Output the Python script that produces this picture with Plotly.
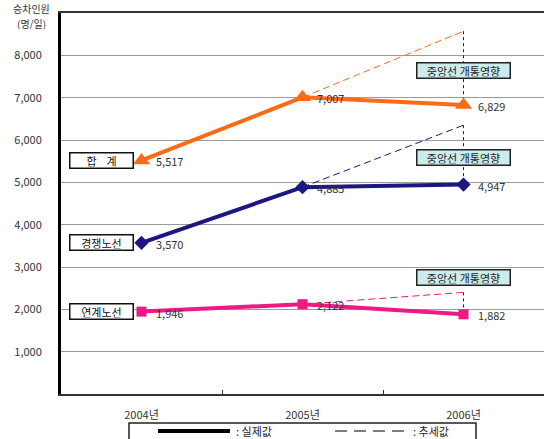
import plotly.graph_objects as go

# 연도별 승차인원 (명/일)
years = ["2004년", "2005년", "2006년"]
total = [5517, 7007, 6829]          # 합계
competing = [3570, 4885, 4947]      # 경쟁노선
linked = [1946, 2122, 1882]         # 연계노선

# 2006년 추세값 (중앙선 개통 전 추세 연장)
trend_total = [7007, 8570]
trend_competing = [4885, 6350]
trend_linked = [2122, 2400]

series_names = ["합    계", "경쟁노선", "연계노선"]
y_ticks = [1000, 2000, 3000, 4000, 5000, 6000, 7000, 8000]

ORANGE = "#FF6A16"
NAVY = "#1C1680"
PINK = "#EC1A82"
KFONT = "Noto Sans CJK KR"

fig = go.Figure()

series = [
    (total, trend_total, ORANGE, "triangle-up", 15),
    (competing, trend_competing, NAVY, "diamond", 11),
    (linked, trend_linked, PINK, "square", 10),
]

# 추세값 (점선)
for vals, trend, color, sym, msize in series:
    fig.add_trace(go.Scatter(
        x=years[1:], y=trend, mode="lines",
        line=dict(color=color, width=1, dash="7px,4px"),
        hoverinfo="skip", showlegend=False))

# 중앙선 개통영향 화살표 (추세값 -> 실제값)
for vals, trend, color, sym, msize in series:
    fig.add_trace(go.Scatter(
        x=[years[2], years[2]], y=[trend[1], vals[2]], mode="lines",
        line=dict(color="#222222", width=1, dash="dot"),
        hoverinfo="skip", showlegend=False))

# 실제값 (실선)
for vals, trend, color, sym, msize in series:
    fig.add_trace(go.Scatter(
        x=years, y=vals, mode="lines+markers",
        line=dict(color=color, width=4),
        marker=dict(symbol=sym, size=msize, color=color),
        showlegend=False))

annotations = []

# 값 레이블
for vals, trend, color, sym, msize in series:
    for xi, v in zip(years, vals):
        annotations.append(dict(
            x=xi, y=v, xref="x", yref="y", text=f"{v:,}",
            showarrow=False, xanchor="left", yanchor="middle",
            xshift=12, yshift=-1,
            font=dict(family=KFONT, size=11, color="#333333")))

# 화살촉
for vals, trend, color, sym, msize in series:
    annotations.append(dict(
        x=years[2], y=vals[2], xref="x", yref="y", ax=0, ay=-6,
        axref="pixel", ayref="pixel", text="", showarrow=True,
        arrowhead=2, arrowsize=1, arrowwidth=1, arrowcolor="#111111",
        standoff=10))

# 노선명 상자
for name, vals in zip(series_names, [total, competing, linked]):
    annotations.append(dict(
        x=years[0], y=vals[0], xref="x", yref="y", text=name,
        showarrow=False, xanchor="center", yanchor="middle", xshift=-40,
        width=60, height=12, bgcolor="white", bordercolor="#111111",
        borderwidth=1.5, borderpad=1,
        font=dict(family=KFONT, size=11, color="#111111")))

# 중앙선 개통영향 상자
box_levels = [7650, 5590, 2750]
for lv in box_levels:
    annotations.append(dict(
        x=years[2], y=lv, xref="x", yref="y", text="중앙선 개통영향",
        showarrow=False, xanchor="center", yanchor="middle",
        width=90, height=12, bgcolor="#CDEBEC", bordercolor="#222222",
        borderwidth=1.5, borderpad=1,
        font=dict(family=KFONT, size=11, color="#222222")))

# 축 제목 (픽셀 위치, 아래에서 paper 좌표로 변환)
title_font = dict(family=KFONT, size=10, color="#333333")
annotations.append(dict(x=31, y=439 - 8, xref="paper", yref="paper",
                        text="승차인원", showarrow=False, height=12,
                        xanchor="center", yanchor="middle", font=title_font))
annotations.append(dict(x=31, y=439 - 23, xref="paper", yref="paper",
                        text="(명/일)", showarrow=False, height=12,
                        xanchor="center", yanchor="middle", font=title_font))

# 범례 텍스트
annotations += [
    dict(x=234, y=8, text=": 실제값"),
    dict(x=411, y=8, text=": 추세값"),
]
for a in annotations[-2:]:
    a.update(xref="paper", yref="paper", showarrow=False, xanchor="left",
             yanchor="middle", font=dict(family=KFONT, size=11, color="#222222"))

W, H = 544, 439
ML, MR, MT, MB = 61, 0, 13, 45
pw, ph = W - ML - MR, H - MT - MB


def px_to_paper(xp, yp_from_bottom):
    return (xp - ML) / pw, (yp_from_bottom - MB) / ph


for a in annotations:
    if a.get("xref") == "paper":
        a["x"], a["y"] = px_to_paper(a["x"], a["y"])

shapes = []
# 범례 상자
x0, y0 = px_to_paper(129, 0)
x1, y1 = px_to_paper(476, 439 - 423)
shapes.append(dict(type="rect", xref="paper", yref="paper", x0=x0, x1=x1,
                   y0=y0 - 0.02, y1=y1, line=dict(color="#222222", width=1.5),
                   fillcolor="white", layer="above"))
lx0, ly = px_to_paper(158, 8)
lx1, _ = px_to_paper(230, 8)
shapes.append(dict(type="line", xref="paper", yref="paper", x0=lx0, x1=lx1,
                   y0=ly, y1=ly, line=dict(color="black", width=4)))
dx0, _ = px_to_paper(335, 8)
dx1, _ = px_to_paper(408, 8)
shapes.append(dict(type="line", xref="paper", yref="paper", x0=dx0, x1=dx1,
                   y0=ly, y1=ly, line=dict(color="black", width=1.2, dash="12px,7px")))

fig.update_layout(
    width=W, height=H,
    margin=dict(l=ML, r=MR, t=MT, b=MB),
    paper_bgcolor="white", plot_bgcolor="white",
    showlegend=False,
    annotations=annotations,
    shapes=shapes,
    font=dict(family=KFONT, size=11, color="#333333"),
    xaxis=dict(
        type="category", categoryorder="array", categoryarray=years,
        range=[-0.5, 2.5], showgrid=False,
        showline=True, linecolor="#333333", linewidth=2, mirror=True,
        ticks="inside", tickson="boundaries", ticklen=4, tickcolor="#333333",
        ticklabelstandoff=10, tickfont=dict(family=KFONT, size=11, color="#333333"),
        fixedrange=True),
    yaxis=dict(
        range=[0, 9000], tickvals=y_ticks, ticktext=[f"{v:,}" for v in y_ticks],
        showgrid=True, gridcolor="#9A9A9A", gridwidth=1, zeroline=False,
        showline=True, linecolor="black", linewidth=3,
        ticks="", ticklabelstandoff=14,
        tickfont=dict(family=KFONT, size=11, color="#333333"),
        fixedrange=True),
)

fig.write_html("out.html")
